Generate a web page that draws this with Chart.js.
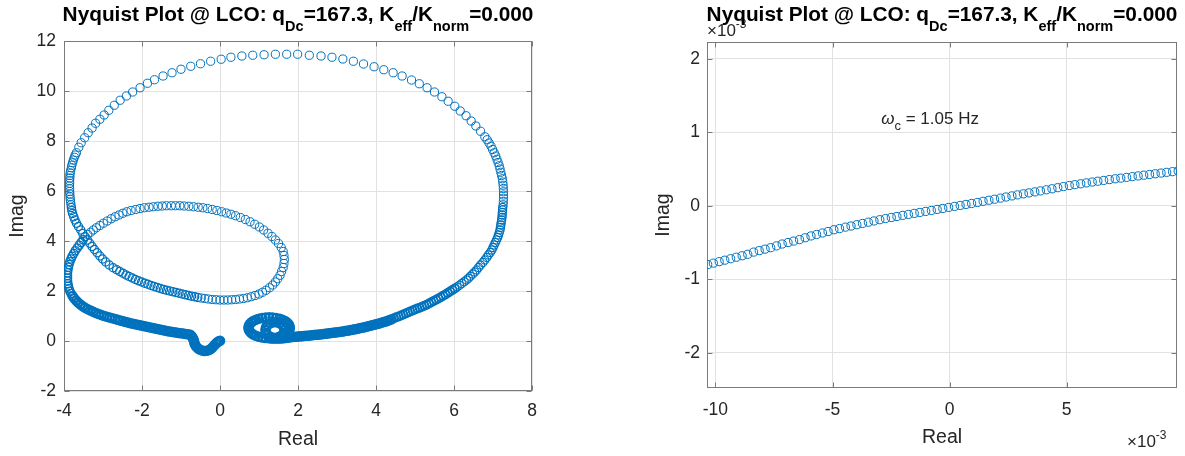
<!DOCTYPE html>
<html><head><meta charset="utf-8">
<script src="https://cdn.jsdelivr.net/npm/chart.js@4.4.1/dist/chart.umd.min.js"></script>
<style>
html,body{margin:0;padding:0;background:#fff;width:1185px;height:456px;overflow:hidden;position:relative;}
.wrap{position:absolute;top:0;height:456px;}
#w1{left:0;width:590px;} #w2{left:590px;width:595px;}
.ttl{position:absolute;top:2px;transform:translateX(-50%);white-space:nowrap;font:bold 20.8px "Liberation Sans",Arial,sans-serif;color:#000;line-height:24px;z-index:5;}
.ttl sub{font-size:14.5px;vertical-align:-10px;line-height:0;}
.exp{position:absolute;font:17px "Liberation Sans",Arial,sans-serif;color:#262626;white-space:nowrap;line-height:20px;z-index:2;}
.exp sup{font-size:12px;vertical-align:8px;line-height:0;}
</style></head><body>
<div class="wrap" id="w1"><canvas id="c1" width="590" height="456"></canvas></div>
<div class="wrap" id="w2"><canvas id="c2" width="595" height="456"></canvas></div>
<div class="exp" style="left:707px;top:21px;">&times;10<sup>-3</sup></div>
<div class="exp" style="left:1127px;top:432px;">&times;10<sup>-3</sup></div>
<div class="ttl" style="left:298px;">Nyquist Plot @ LCO: q<sub>Dc</sub>=167.3, K<sub>eff</sub>/K<sub>norm</sub>=0.000</div>
<div class="ttl" style="left:942px;">Nyquist Plot @ LCO: q<sub>Dc</sub>=167.3, K<sub>eff</sub>/K<sub>norm</sub>=0.000</div>
<script>
// ---------------- data ----------------
// Left panel: Nyquist points [Real, Imag], grouped along the curve
const spiralLowFreq = [[1.80,0.15],[1.74,0.13],[1.68,0.12],[1.62,0.11],[1.56,0.10],[1.50,0.10],[1.44,0.10],[1.38,0.10],[1.32,0.10],[1.26,0.11],[1.17,0.12],[1.08,0.14],[0.995,0.17],[0.92,0.21],[0.85,0.26],[0.80,0.32],[0.76,0.39],[0.74,0.46],[0.73,0.53],[0.74,0.60],[0.76,0.67],[0.80,0.74],[0.85,0.80],[0.92,0.85],[0.995,0.89],[1.08,0.92],[1.17,0.94],[1.26,0.95],[1.35,0.94],[1.44,0.92],[1.53,0.89],[1.60,0.85],[1.67,0.80],[1.72,0.74],[1.76,0.67],[1.78,0.60],[1.79,0.53],[1.78,0.46],[1.76,0.39],[1.72,0.32],[1.67,0.26],[1.60,0.21],[1.53,0.17],
 [1.655,0.44],[1.64,0.55],[1.60,0.64],[1.53,0.71],[1.45,0.75],[1.37,0.75],[1.29,0.71],[1.22,0.64],[1.18,0.55],[1.165,0.44],[1.18,0.33],[1.22,0.24],[1.29,0.17],[1.37,0.13],[1.45,0.13],[1.53,0.17],[1.60,0.24],[1.64,0.33]];
const lowerRightBandA = [[1.85,0.16],[1.90,0.17],[1.95,0.17],[2.00,0.18],[2.05,0.19],[2.10,0.19],[2.15,0.20],[2.20,0.21],[2.25,0.21],[2.30,0.22],[2.35,0.23],[2.40,0.24],[2.45,0.25],[2.50,0.25],[2.55,0.26],[2.60,0.27],[2.65,0.28],[2.70,0.29],[2.75,0.30],[2.80,0.31],[2.85,0.32],[2.90,0.33],[2.95,0.34],[3.00,0.35],[3.05,0.36],[3.10,0.37],[3.15,0.38],[3.20,0.40],[3.25,0.41],[3.30,0.42],[3.35,0.44],[3.40,0.45],[3.45,0.47],[3.50,0.48],[3.55,0.50],[3.60,0.52],[3.65,0.53],[3.70,0.55],[3.75,0.57],[3.80,0.59],[3.85,0.61],[3.90,0.63],[3.95,0.65],[4.00,0.67],[4.05,0.69],[4.10,0.71],[4.15,0.74],[4.20,0.76],[4.25,0.78],[4.30,0.81],[4.35,0.84],[4.40,0.87]];
const lowerRightBandB = [[4.46,0.91],[4.52,0.95],[4.58,0.98],[4.64,1.02],[4.70,1.06],[4.76,1.10],[4.82,1.14],[4.88,1.18],[4.94,1.22],[5.00,1.26],[5.06,1.30],[5.12,1.33],[5.18,1.37],[5.24,1.41],[5.30,1.45],[5.36,1.50],[5.42,1.55],[5.48,1.60],[5.54,1.65],[5.60,1.70],[5.66,1.75],[5.72,1.81],[5.78,1.86],[5.84,1.92],[5.90,1.98],[5.96,2.04],[6.02,2.10]];
const lowerRightBandC = [[6.08,2.16],[6.14,2.23],[6.20,2.30],[6.26,2.37],[6.32,2.44],[6.37,2.51],[6.42,2.59],[6.48,2.68],[6.53,2.76],[6.58,2.84],[6.63,2.94],[6.68,3.04],[6.74,3.14],[6.79,3.24],[6.84,3.34],[6.88,3.44],[6.93,3.54],[6.97,3.64],[7.00,3.74],[7.03,3.84],[7.06,3.94],[7.09,4.04],[7.12,4.14],[7.14,4.24],[7.16,4.34],[7.18,4.44],[7.19,4.54],[7.20,4.64],[7.21,4.74],[7.22,4.84],[7.23,4.94],[7.235,5.04],[7.24,5.14],[7.245,5.24],[7.25,5.34]];
const bigLoop = [[7.26,5.45],[7.265,5.58],[7.27,5.71],[7.27,5.84],[7.27,5.97],[7.265,6.10],[7.26,6.23],[7.25,6.36],[7.24,6.49],[7.22,6.62],[7.20,6.75],[7.18,6.88],[7.16,7.01],[7.13,7.14],[7.10,7.27],[7.07,7.40],[7.03,7.53],[6.99,7.66],[6.95,7.79],[6.90,7.92],[6.85,8.05],[6.79,8.17],[6.68,8.39],[6.56,8.60],[6.44,8.80],[6.31,9.01],[6.16,9.20],[6.02,9.39],[5.85,9.59],[5.69,9.77],[5.50,9.96],[5.31,10.13],[5.11,10.29],[4.91,10.44],[4.67,10.60],[4.44,10.73],[4.20,10.85],[3.95,10.97],[3.68,11.08],[3.42,11.19],[3.15,11.28],[2.87,11.35],[2.59,11.40],[2.29,11.43],[1.99,11.47],[1.71,11.47],[1.42,11.47],[1.13,11.45],[0.84,11.43],[0.56,11.40],[0.28,11.35],[0.03,11.27],[-0.24,11.19],[-0.50,11.09],[-0.75,10.99],[-1.00,10.87],[-1.23,10.73],[-1.46,10.60],[-1.68,10.45],[-1.86,10.31],[-2.05,10.13],[-2.24,9.96],[-2.40,9.80],[-2.56,9.63],[-2.71,9.43],[-2.85,9.23],[-2.97,9.04],[-3.08,8.87],[-3.19,8.71],[-3.28,8.52],[-3.38,8.33],[-3.47,8.13],[-3.56,7.93],[-3.62,7.75],[-3.68,7.53],[-3.71,7.44],[-3.735,7.35],[-3.76,7.24],[-3.78,7.13],[-3.80,7.03],[-3.81,6.93],[-3.83,6.82],[-3.84,6.72],[-3.85,6.62],[-3.85,6.52],[-3.855,6.41],[-3.855,6.31],[-3.86,6.20],[-3.855,6.09],[-3.855,5.98],[-3.85,5.88],[-3.845,5.77],[-3.84,5.67],[-3.83,5.56],[-3.82,5.45]];
const leftDescent = [[-3.81,5.34],[-3.80,5.22],[-3.78,5.10],[-3.75,4.97],[-3.72,4.84],[-3.68,4.71],[-3.63,4.58],[-3.57,4.44],[-3.52,4.30],[-3.46,4.17],[-3.40,4.04],[-3.34,3.91],[-3.28,3.78],[-3.22,3.66],[-3.15,3.53],[-3.08,3.40],[-3.01,3.28],[-2.93,3.16],[-2.84,3.04],[-2.74,2.93]];
const smallLoopBottom = [[-2.65,2.85],[-2.57,2.78],[-2.49,2.71],[-2.41,2.64],[-2.33,2.58],[-2.25,2.52],[-2.17,2.46],[-2.09,2.41],[-2.01,2.36],[-1.93,2.31],[-1.85,2.27],[-1.77,2.22],[-1.69,2.18],[-1.61,2.14],[-1.53,2.10],[-1.45,2.06],[-1.37,2.03],[-1.29,2.00],[-1.21,1.97],[-1.13,1.94],[-1.05,1.91],[-0.97,1.88],[-0.89,1.85],[-0.81,1.82],[-0.73,1.79],[-0.65,1.77],[-0.57,1.74]];
const smallLoop = [[-0.48,1.72],[-0.39,1.70],[-0.30,1.68],[-0.20,1.66],[-0.10,1.65],[0.00,1.64],[0.10,1.64],[0.20,1.64],[0.30,1.65],[0.40,1.66],[0.50,1.68],[0.60,1.70],[0.70,1.73],[0.80,1.77],[0.90,1.82],[1.00,1.88],[1.09,1.95],[1.18,2.03],[1.27,2.13],[1.35,2.24],[1.42,2.36],[1.48,2.49],[1.54,2.63],[1.58,2.78],[1.62,2.94],[1.64,3.10],[1.65,3.26],[1.64,3.42],
 [1.62,3.58],[1.57,3.74],[1.50,3.90],[1.42,4.04],[1.33,4.18],[1.23,4.31],[1.12,4.44],[1.01,4.56],[0.89,4.67],[0.77,4.77],[0.65,4.86],[0.52,4.94],[0.40,5.01],[0.28,5.07],[0.16,5.12],[0.04,5.17],[-0.08,5.22],[-0.20,5.26],[-0.32,5.30],[-0.44,5.33],[-0.56,5.35],[-0.68,5.37],[-0.80,5.39],[-0.92,5.40],[-1.03,5.41],[-1.14,5.41],[-1.25,5.41],[-1.37,5.41],[-1.48,5.40],[-1.59,5.39],[-1.71,5.37],[-1.82,5.35],[-1.94,5.33],[-2.05,5.30],[-2.16,5.26],[-2.28,5.22],[-2.39,5.17],[-2.49,5.11],[-2.59,5.04],[-2.69,4.97],[-2.79,4.89],[-2.89,4.80],[-2.99,4.71],[-3.08,4.62],[-3.17,4.53],[-3.25,4.44],[-3.32,4.35],[-3.39,4.26],[-3.46,4.17]];
const leftBandUpper = [[-3.51,4.05],[-3.56,3.94],[-3.61,3.83],[-3.66,3.72],[-3.71,3.61],[-3.75,3.50],[-3.79,3.39],[-3.82,3.28],[-3.85,3.17],[-3.87,3.06],[-3.89,2.95],[-3.90,2.84],[-3.91,2.73],[-3.91,2.62],[-3.91,2.51],[-3.91,2.40],[-3.90,2.29],[-3.89,2.19],[-3.87,2.09],[-3.85,1.99],[-3.82,1.90]];
const leftBandLower = [[-3.78,1.80],[-3.74,1.71],[-3.69,1.62],[-3.64,1.54],[-3.58,1.46],[-3.52,1.39],[-3.46,1.33],[-3.39,1.27],[-3.32,1.22],[-3.25,1.17],[-3.18,1.12],[-3.11,1.08],[-3.04,1.04],[-2.97,1.00],[-2.90,0.97],[-2.83,0.94],[-2.76,0.91],[-2.69,0.88],[-2.62,0.85],[-2.56,0.82],[-2.50,0.80],[-2.44,0.77],[-2.38,0.75],[-2.32,0.72],[-2.26,0.70],[-2.20,0.68],[-2.14,0.66],[-2.08,0.64],[-2.02,0.62],[-1.96,0.60],[-1.90,0.58],[-1.84,0.56],[-1.78,0.54],[-1.72,0.52],[-1.66,0.50],[-1.60,0.48],[-1.54,0.46],[-1.48,0.44],[-1.42,0.42],[-1.36,0.40],[-1.30,0.38],[-1.24,0.37],[-1.18,0.35],[-1.12,0.34],[-1.06,0.32],[-1.00,0.31],[-0.94,0.30],[-0.88,0.28],[-0.82,0.27],[-0.76,0.25]];
const hfHook = [[-0.72,0.18],[-0.69,0.10],[-0.67,0.02],[-0.66,-0.06],[-0.64,-0.14],[-0.61,-0.22],[-0.57,-0.29],[-0.52,-0.34],[-0.46,-0.38],[-0.40,-0.40],[-0.34,-0.39],[-0.28,-0.36],[-0.23,-0.31],[-0.19,-0.25],[-0.15,-0.18],[-0.11,-0.11],[-0.07,-0.05],[-0.03,-0.01],[0.00,0.01]];
const realTicks = [-4,-2,0,2,4,6,8];
const imagTicks = [-2,0,2,4,6,8,10,12];

// Right panel: zoom near the origin (values x 10^-3)
const zoomRe = [-10.33,-10.09,-9.84,-9.60,-9.35,-9.11,-8.86,-8.62,-8.37,-8.13,-7.88,-7.64,-7.39,-7.15,-6.90,-6.66,-6.41,-6.17,-5.92,-5.68,-5.43,-5.19,-4.94,-4.70,-4.45,-4.21,-3.96,-3.72,-3.47,-3.23,-2.98,-2.74,-2.49,-2.25,-2.00,-1.76,-1.51,-1.27,-1.02,-0.78,-0.53,-0.29,-0.04,0.21,0.45,0.70,0.94,1.19,1.43,1.68,1.92,2.17,2.41,2.66,2.90,3.15,3.39,3.64,3.88,4.13,4.37,4.62,4.86,5.11,5.35,5.60,5.84,6.09,6.33,6.58,6.82,7.07,7.31,7.56,7.80,8.05,8.29,8.54,8.78,9.03,9.27,9.52,9.76];
const zoomIm = [-0.80,-0.78,-0.76,-0.74,-0.72,-0.70,-0.68,-0.66,-0.63,-0.61,-0.59,-0.57,-0.545,-0.52,-0.50,-0.48,-0.46,-0.435,-0.41,-0.39,-0.37,-0.35,-0.326,-0.31,-0.29,-0.275,-0.257,-0.24,-0.223,-0.206,-0.189,-0.174,-0.159,-0.145,-0.13,-0.117,-0.103,-0.090,-0.076,-0.063,-0.049,-0.036,-0.022,-0.008,0.005,0.019,0.032,0.046,0.061,0.076,0.090,0.105,0.120,0.135,0.149,0.163,0.176,0.190,0.203,0.218,0.232,0.247,0.262,0.276,0.288,0.300,0.312,0.324,0.335,0.346,0.357,0.368,0.377,0.387,0.397,0.407,0.417,0.427,0.436,0.446,0.456,0.465,0.475];
const zoomReTicks = [-10,-5,0,5];
const zoomImTicks = [-2,-1,0,1,2];
const crossoverLabel = {re: -2.92, im: 1.11, sym: 'ω', sub: 'c', text: ' = 1.05 Hz'};

// ---------------- styling ----------------
const FONT = '"Liberation Sans", Arial, Helvetica, sans-serif';
const BLUE = '#0072BD';
const TXT = '#262626';
const FRAME = '#7a7a7a';
const GRID = '#e2e2e2';

function pts(arr){ return arr.map(p => ({x: p[0], y: p[1]})); }
// bw: marker edge width; overlapping markers in the dense parts merge into a solid band
function ds(data, bw){
  return {data, showLine:false, pointStyle:'circle', pointRadius:4.1, pointHoverRadius:4.1,
    pointBorderWidth:bw, pointBorderColor:BLUE, pointBackgroundColor:'rgba(0,0,0,0)',
    borderColor:BLUE, backgroundColor:'rgba(0,0,0,0)'};
}

const matlabAxes = {
  id:'matlabAxes',
  beforeDatasetsDraw(chart){
    const {ctx, chartArea:a, scales:{x,y}} = chart;
    ctx.save();
    ctx.strokeStyle = FRAME; ctx.lineWidth = 1;
    const L = Math.round(a.left)+0.5, R = Math.round(a.right)-0.5, T = Math.round(a.top)+0.5, B = Math.round(a.bottom)-0.5;
    ctx.strokeRect(L, T, R-L, B-T);
    ctx.beginPath();
    x.ticks.forEach(t => { const p = Math.round(x.getPixelForValue(t.value))+0.5; ctx.moveTo(p,B); ctx.lineTo(p,B-5); ctx.moveTo(p,T); ctx.lineTo(p,T+5); });
    y.ticks.forEach(t => { const p = Math.round(y.getPixelForValue(t.value))+0.5; ctx.moveTo(L,p); ctx.lineTo(L+5,p); ctx.moveTo(R,p); ctx.lineTo(R-5,p); });
    ctx.stroke();
    ctx.restore();
  }
};

const omegaText = {
  id:'omegaText',
  afterDatasetsDraw(chart){
    const {ctx, scales:{x,y}} = chart;
    let px = x.getPixelForValue(crossoverLabel.re), py = y.getPixelForValue(crossoverLabel.im);
    ctx.save();
    ctx.fillStyle = TXT; ctx.textBaseline = 'alphabetic'; ctx.textAlign = 'left';
    ctx.font = 'italic 17px ' + FONT;
    ctx.fillText(crossoverLabel.sym, px, py);
    px += ctx.measureText(crossoverLabel.sym).width;
    ctx.font = '13px ' + FONT;
    ctx.fillText(crossoverLabel.sub, px, py + 6);
    px += ctx.measureText(crossoverLabel.sub).width;
    ctx.font = '17px ' + FONT;
    ctx.fillText(crossoverLabel.text, px, py);
    ctx.restore();
  }
};

function axisOpts(min, max, tickVals, title, fit, tickPad, titlePad){
  return {
    type:'linear', min, max,
    afterBuildTicks: s => { s.ticks = tickVals.map(v => ({value:v})); },
    afterFit: fit,
    grid:{color:GRID, lineWidth:1, drawTicks:false},
    border:{display:false},
    ticks:{color:TXT, font:{family:FONT, size:17.5}, padding:tickPad, autoSkip:false, maxRotation:0, callback: v => String(v)},
    title:{display:true, text:title, color:TXT, font:{family:FONT, size:19.5}, padding:titlePad}
  };
}

const common = {
  responsive:false, animation:false, events:[],
  plugins:{legend:{display:false}, tooltip:{enabled:false}, title:{display:false}},
};

new Chart(document.getElementById('c1'), {
  type:'scatter',
  data:{datasets:[
    ds(pts(bigLoop), 1),
    ds(pts(smallLoop), 1),
    ds(pts(smallLoopBottom), 1.3),
    ds(pts(leftDescent), 1.3),
    ds(pts(leftBandUpper), 1.4),
    ds(pts(lowerRightBandC), 1.2),
    ds(pts(lowerRightBandB), 1.7),
    ds(pts(lowerRightBandA), 2.2),
    ds(pts(leftBandLower), 2.2),
    ds(pts(hfHook), 2.4),
    ds(pts(spiralLowFreq), 2.4)
  ]},
  options:Object.assign({}, common, {
    layout:{padding:{left:0, right:58, top:41, bottom:0}},
    scales:{
      x: axisOpts(-4, 8, realTicks, 'Real', s => { s.height = 65; }, 10, {top:0, bottom:5}),
      y: axisOpts(-2, 12, imagTicks, 'Imag', s => { s.width = 64; }, 8, {top:6, bottom:0})
    }
  }),
  plugins:[matlabAxes]
});

new Chart(document.getElementById('c2'), {
  type:'scatter',
  data:{datasets:[ds(pts(zoomRe.map((r,i) => [r, zoomIm[i]])), 1)]},
  options:Object.assign({}, common, {
    layout:{padding:{left:56, right:8, top:42, bottom:0}},
    scales:{
      x: axisOpts(-10.36, 9.71, zoomReTicks, 'Real', s => { s.height = 68; }, 12, {top:0, bottom:7}),
      y: axisOpts(-2.48, 2.23, zoomImTicks, 'Imag', s => { s.width = 61; }, 7, {top:6, bottom:0})
    }
  }),
  plugins:[matlabAxes, omegaText]
});
</script>
</body></html>
